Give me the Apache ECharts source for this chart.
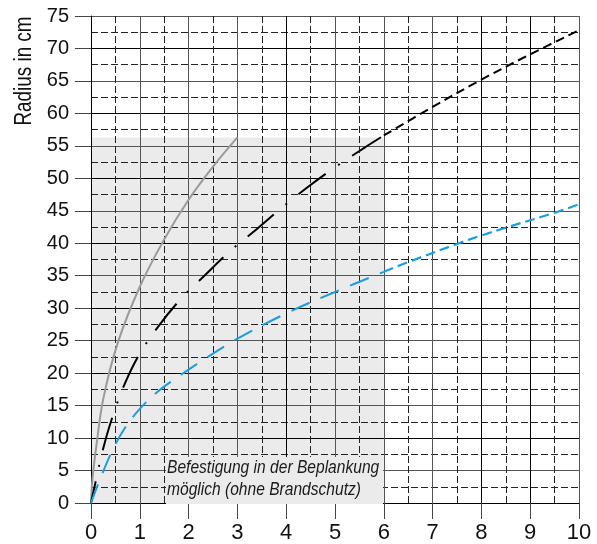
<!DOCTYPE html>
<html>
<head>
<meta charset="utf-8">
<script src="https://cdn.jsdelivr.net/npm/echarts@6/dist/echarts.min.js"></script>
<style>
  html, body { margin: 0; padding: 0; background: #fff; }
  #chart { width: 597px; height: 544px; }
</style>
</head>
<body>
<div id="chart"></div>
<script>
// Axis ranges
const xMin = 0, xMax = 10, xStep = 1;
const yMin = 0, yMax = 75, yStep = 5;

// Shaded mounting zone (span in cm / radius limit)
const zoneX = [0, 6];
const zoneY = [0, 56.3];
const zoneNote = ['Befestigung in der Beplankung', 'möglich (ohne Brandschutz)'];

// Grey solid curve
const grayX = [0, 0.03, 0.11, 0.25, 0.55, 1, 1.5, 2, 2.5, 3];
const grayY = [0, 3.7, 8.8, 16.0, 24.7, 33.3, 40.6, 46.7, 51.8, 56.3];

// Black curve: dash-dot inside the zone, short dashes beyond
const blackInX = [0, 0.11, 0.25, 0.45, 0.7, 1.0, 1.4, 1.85, 2.35, 2.85, 3.4, 3.9, 4.45, 5.0, 5.6, 6.0];
const blackInY = [0, 3.8, 8.4, 13.5, 18.5, 23.0, 27.4, 31.5, 35.2, 38.8, 42.2, 45.4, 48.7, 51.7, 54.7, 56.6];
const blackOutX = [6, 7, 8, 9, 10];
const blackOutY = [56.6, 61.0, 65.2, 69.1, 72.8];

// Blue curve: long dashes inside the zone, short dashes beyond
const blueInX = [0, 0.14, 0.42, 0.69, 1.0, 1.39, 1.72, 2.23, 3, 4, 5, 6];
const blueInY = [0, 2.8, 7.8, 11.5, 14.5, 17.3, 19.1, 21.7, 25.3, 29.2, 32.5, 35.6];
const blueOutX = [6, 6.5, 7.5, 8, 8.5, 9.5, 10];
const blueOutY = [35.6, 37.1, 39.9, 41.2, 42.4, 44.7, 46.0];

const yTitle = 'Radius in cm';

const pairs = (xs, ys) => xs.map((x, i) => [x, ys[i]]);

const SANS = '"Liberation Sans", Arial, Helvetica, sans-serif';

const chart = echarts.init(document.getElementById('chart'), null, { renderer: 'canvas' });

const curve = (xs, ys, color, width, dash, offset, z) => ({
  type: 'line',
  data: pairs(xs, ys),
  showSymbol: false,
  symbol: 'none',
  smooth: 0.35,
  z: z || 3,
  silent: true,
  lineStyle: { color: color, width: width, type: dash, dashOffset: offset || 0, cap: 'butt' }
});

chart.setOption({
  animation: false,
  grid: { left: 91, right: 18, top: 16, bottom: 40, containLabel: false },
  xAxis: {
    type: 'value', min: xMin, max: xMax, interval: xStep,
    axisLine: { show: true, lineStyle: { color: '#000', width: 1 } },
    axisTick: { show: true, length: 16, inside: false, lineStyle: { color: '#444', width: 1 } },
    axisLabel: { fontSize: 22, fontFamily: SANS, color: '#111', margin: 19 },
    splitLine: { show: true, lineStyle: { color: ['#000', '#555', '#555', '#555', '#000', '#555', '#555', '#555', '#000', '#000', '#555'], width: 1 } },
    minorTick: { show: false, splitNumber: 2 },
    minorSplitLine: { show: true, lineStyle: { color: '#222', width: 1, type: [7, 3] } }
  },
  yAxis: {
    type: 'value', min: yMin, max: yMax, interval: yStep,
    axisLine: { show: true, lineStyle: { color: '#000', width: 1 } },
    axisTick: { show: true, length: 16, inside: false, lineStyle: { color: '#444', width: 1 } },
    axisLabel: { fontSize: 20, fontFamily: SANS, color: '#111', margin: 22, padding: [5, 0, 0, 0] },
    splitLine: { show: true, lineStyle: { color: ['#000', '#555'], width: 1 } },
    minorTick: { show: false, splitNumber: 2 },
    minorSplitLine: { show: true, lineStyle: { color: '#222', width: 1, type: [7, 3] } }
  },
  series: [
    {
      type: 'line', data: [], silent: true, z: -1,
      markArea: {
        silent: true, z: -1,
        itemStyle: { color: '#ebebeb' },
        data: [[{ coord: [zoneX[0], zoneY[0]] }, { coord: [zoneX[1], zoneY[1]] }]]
      }
    },
    curve(grayX, grayY, '#9a9a9a', 2, 'solid'),
    curve(blackInX, blackInY, '#000', 2, [34, 15, 2, 15], 12),
    curve(blackOutX, blackOutY, '#000', 2, [9, 5]),
    curve(blueInX, blueInY, '#1a9ee0', 2, [20, 12]),
    curve(blueOutX, blueOutY, '#1a9ee0', 2.2, [10, 5])
  ],
  graphic: [
    {
      // axis title, condensed horizontally along the text direction
      type: 'text', x: 25, y: 71, rotation: Math.PI / 2, scaleX: 0.82, z: 10,
      style: { text: yTitle, font: '23px ' + SANS, fill: '#111', align: 'center', verticalAlign: 'middle' }
    },
    {
      type: 'rect', z: 10,
      shape: { x: 166, y: 457, width: 217, height: 47 },
      style: { fill: '#ebebeb' }
    },
    {
      type: 'text', x: 167, y: 457, scaleX: 0.82, z: 11,
      style: { text: zoneNote.join('\n'), font: 'italic 19px ' + SANS, lineHeight: 21.5, fill: '#1a1a1a', align: 'left', verticalAlign: 'top' }
    }
  ]
});
</script>
</body>
</html>
